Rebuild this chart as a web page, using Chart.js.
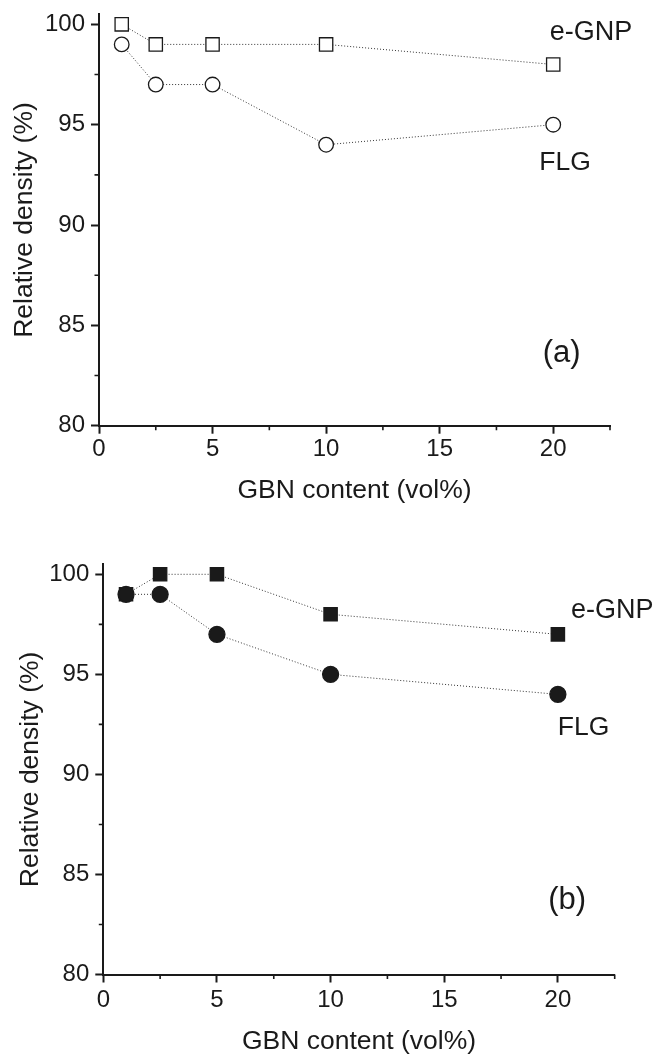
<!DOCTYPE html>
<html><head><meta charset="utf-8">
<script src="https://cdn.jsdelivr.net/npm/chart.js@4.4.1/dist/chart.umd.min.js"></script>
<style>
html,body{margin:0;padding:0;background:#fff;}
#wrap{position:relative;width:656px;height:1054px;overflow:hidden;background:#fff;}
.pane{position:absolute;left:0;width:656px;height:527px;}
</style></head><body>
<div id="wrap">
<div class="pane" style="top:0"><canvas id="ca" width="656" height="527"></canvas></div>
<div class="pane" style="top:527px"><canvas id="cb" width="656" height="527"></canvas></div>
</div>
<script>
// ---- data ----
const gbnContentA = [1, 2.5, 5, 10, 20];
const eGnpDensityA = [100, 99, 99, 99, 98];
const flgDensityA  = [99, 97, 97, 94, 95];
const gbnContentB = [1, 2.5, 5, 10, 20];
const eGnpDensityB = [99, 100, 100, 98, 97];
const flgDensityB  = [99, 99, 97, 95, 94];
const xMajorTicks = [0, 5, 10, 15, 20];
const xMinorTicks = [2.5, 7.5, 12.5, 17.5, 22.5];
const yMajorTicks = [80, 85, 90, 95, 100];
const yMinorTicks = [82.5, 87.5, 92.5, 97.5];
const xTitle = 'GBN content (vol%)';
const yTitle = 'Relative density (%)';
const seriesNames = ['e-GNP', 'FLG'];
const panelNames = ['(a)', '(b)'];

// ---- styling / layout ----
const FONT = "'Liberation Sans', Arial, Helvetica, sans-serif";
const INK = '#1a1a1a';

const minorTicksPlugin = {
  id: 'minorTicks',
  afterDraw(chart) {
    const {ctx, chartArea} = chart;
    const xs = chart.scales.x, ys = chart.scales.y;
    ctx.save();
    ctx.strokeStyle = INK; ctx.lineWidth = 1.6;
    ctx.beginPath();
    xMinorTicks.forEach(v => { const p = xs.getPixelForValue(v); ctx.moveTo(p, chartArea.bottom); ctx.lineTo(p, chartArea.bottom + 4.5); });
    yMinorTicks.forEach(v => { const p = ys.getPixelForValue(v); ctx.moveTo(chartArea.left, p); ctx.lineTo(chartArea.left - 4.5, p); });
    ctx.stroke();
    ctx.restore();
  }
};

const notesPlugin = {
  id: 'notes',
  afterDraw(chart, args, opts) {
    const {ctx} = chart;
    const xs = chart.scales.x, ys = chart.scales.y;
    ctx.save();
    ctx.fillStyle = INK; ctx.textAlign = 'center'; ctx.textBaseline = 'middle';
    (opts.items || []).forEach(n => {
      ctx.font = n.size + 'px ' + FONT;
      ctx.fillText(n.text, xs.getPixelForValue(n.x), ys.getPixelForValue(n.y));
    });
    ctx.restore();
  }
};

function makeChart(id, xsArr, eGnp, flg, filled, g, notes) {
  const fill = filled ? INK : '#ffffff';
  return new Chart(document.getElementById(id), {
    type: 'line',
    data: {
      datasets: [
        {
          label: seriesNames[1],
          data: xsArr.map((x, i) => ({x: x, y: flg[i]})),
          borderColor: '#333', borderWidth: 1, borderDash: [1, 2], fill: false, tension: 0,
          pointStyle: 'circle', pointRadius: filled ? 8 : 7.3, pointBorderWidth: 1.3,
          pointBorderColor: INK, pointBackgroundColor: fill, clip: false
        },
        {
          label: seriesNames[0],
          data: xsArr.map((x, i) => ({x: x, y: eGnp[i]})),
          borderColor: '#333', borderWidth: 1, borderDash: [1, 2], fill: false, tension: 0,
          pointStyle: 'rect', pointRadius: 9.4, pointBorderWidth: 1.3,
          pointBorderColor: INK, pointBackgroundColor: fill, clip: false
        }
      ]
    },
    options: {
      responsive: false, animation: false, devicePixelRatio: 1,
      layout: { padding: { left: 0, top: g.top, right: g.right, bottom: 0 } },
      plugins: { legend: {display: false}, tooltip: {enabled: false}, notes: {items: notes} },
      scales: {
        x: {
          type: 'linear', min: 0, max: 22.5,
          afterBuildTicks: s => { s.ticks = xMajorTicks.map(v => ({value: v})); },
          afterFit: s => { s.height = g.xAxisH; s.paddingLeft = 0; s.paddingRight = 0; },
          border: {display: true, color: INK, width: 2},
          grid: {drawOnChartArea: false, drawTicks: true, tickLength: 8, tickWidth: 2, tickColor: INK},
          ticks: {color: INK, font: {family: FONT, size: 24}, padding: g.xTickPad, maxRotation: 0, autoSkip: false},
          title: {display: true, text: xTitle, color: INK, font: {family: FONT, size: 26.5, lineHeight: 1}, padding: {top: 0, bottom: g.xTitlePad}}
        },
        y: {
          type: 'linear', min: 80, max: 100.5,
          afterBuildTicks: s => { s.ticks = yMajorTicks.map(v => ({value: v})); },
          afterFit: s => { s.width = g.yAxisW; s.paddingTop = 0; s.paddingBottom = 0; },
          border: {display: true, color: INK, width: 2},
          grid: {drawOnChartArea: false, drawTicks: true, tickLength: 8, tickWidth: 2, tickColor: INK},
          ticks: {color: INK, font: {family: FONT, size: 24}, padding: 6, autoSkip: false},
          title: {display: true, text: yTitle, color: INK, font: {family: FONT, size: 26.5, lineHeight: 1}, padding: {top: g.yTitlePad, bottom: 0}}
        }
      }
    },
    plugins: [minorTicksPlugin, notesPlugin]
  });
}

makeChart('ca', gbnContentA, eGnpDensityA, flgDensityA, false,
  {top: 14.3, right: 46, xAxisH: 101.3, yAxisW: 99, xTickPad: 1.1, xTitlePad: 22.75, yTitlePad: 11.75},
  [
    {text: seriesNames[0], x: 21.66, y: 99.59, size: 27},
    {text: seriesNames[1], x: 20.52, y: 93.12, size: 26.5},
    {text: panelNames[0], x: 20.37, y: 83.6, size: 31}
  ]);

makeChart('cb', gbnContentB, eGnpDensityB, flgDensityB, true,
  {top: 37.3, right: 41.3, xAxisH: 79.5, yAxisW: 103.3, xTickPad: 3.1, xTitlePad: -1, yTitlePad: 17.25},
  [
    {text: seriesNames[0], x: 22.39, y: 98.21, size: 27},
    {text: seriesNames[1], x: 21.13, y: 92.32, size: 26.5},
    {text: panelNames[1], x: 20.41, y: 83.7, size: 31}
  ]);
</script>
</body></html>
